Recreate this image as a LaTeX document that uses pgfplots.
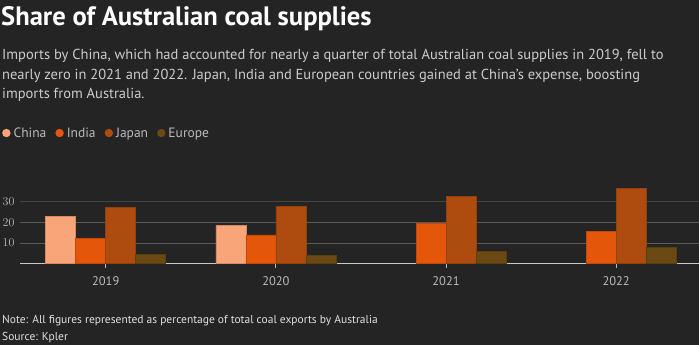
\documentclass[border=0pt]{standalone}
\usepackage{pgfplots}
\pgfplotsset{compat=1.18}
\usepackage{fontspec}
\setmainfont{PT Sans}
\definecolor{bg}{HTML}{242424}
\definecolor{cchina}{HTML}{F8A57A}
\definecolor{cindia}{HTML}{E4560A}
\definecolor{cjapan}{HTML}{AD4C0E}
\definecolor{ceurope}{HTML}{6B4913}
\definecolor{gridA}{HTML}{5A5A5A}
\definecolor{gridB}{HTML}{444444}
\definecolor{baseC}{HTML}{C8C8C8}
\definecolor{tickC}{HTML}{BBBBBB}
\begin{document}
\begin{tikzpicture}[x=1pt,y=1pt]
\fill[bg] (0,0) rectangle (699,345);
\useasboundingbox (0,0) rectangle (699,345);
\node[anchor=base west, inner sep=0pt, text=white, font=\fontsize{26.6}{30}\selectfont\bfseries] at (1,319) {Share of Australian coal supplies};
\begin{scope}[every node/.style={anchor=base west, inner sep=0pt, text=white!80!black, font=\fontsize{14.5}{20}\selectfont}]
\node at (2,285) {Imports by China, which had accounted for nearly a quarter of total Australian coal supplies in 2019, fell to};
\node at (2,265.5) {nearly zero in 2021 and 2022. Japan, India and European countries gained at China's expense, boosting};
\node at (2,246) {imports from Australia.};
\end{scope}
\node[anchor=base west, inner sep=0pt, text=white!88!black, font=\fontsize{11.5}{14}\selectfont] at (2,21) {Note: All figures represented as percentage of total coal exports by Australia};
\node[anchor=base west, inner sep=0pt, text=white!88!black, font=\fontsize{11.5}{14}\selectfont] at (2,4) {Source: Kpler};
\begin{axis}[
  at={(20pt,81.3pt)}, anchor=south west,
  scale only axis, width=679pt, height=82.7pt,
  xmin=-0.504, xmax=3.487, ymin=0, ymax=40,
  ybar=0pt, bar width=30pt,
  every axis plot post/.append style={legend image code/.code={\fill[##1, draw=none] (2pt,0pt) circle (4.2pt);}},
  xtick={0,1,2,3}, xticklabels={2019,2020,2021,2022},
  ytick={10,20}, extra y ticks={30},
  ymajorgrids, grid style={gridA, line width=1pt},
  extra y tick style={grid style={gridB, line width=1.2pt}},
  axis x line*=bottom, axis y line*=left,
  x axis line style={baseC, line width=1.6pt, -},
  y axis line style={draw=none},
  ytick style={draw=none},
  xtick style={tickC, line width=1pt},
  major tick length=4pt, tick align=outside,
  ticklabel style={text=tickC, font=\fontsize{12.5}{14}\selectfont},
  xticklabel style={yshift=-5pt},
  yticklabel style={anchor=west, inner sep=0pt, xshift=-13.5pt},
  legend columns=-1,
  legend style={at={(rel axis cs:-0.0265,1.58)}, anchor=west, draw=none, fill=none,
    text=tickC, font=\fontsize{13.5}{15}\selectfont, inner sep=0pt,
    /tikz/every even column/.append style={column sep=7pt},
    /tikz/every odd column/.append style={column sep=1pt}},
  enlargelimits=false,
]
\addplot[fill=cchina, draw=cchina!85!black, line width=0.5pt] coordinates {(0,23.0) (1,18.7)};
\addlegendentry{China}
\addplot[fill=cindia, draw=cindia!85!black, line width=0.5pt] coordinates {(0,12.3) (1,13.9) (2,19.5) (3,15.7)};
\addlegendentry{India}
\addplot[fill=cjapan, draw=cjapan!85!black, line width=0.5pt] coordinates {(0,27.4) (1,27.7) (2,32.7) (3,36.6)};
\addlegendentry{Japan}
\addplot[fill=ceurope, draw=ceurope!85!black, line width=0.5pt] coordinates {(0,4.5) (1,4.0) (2,6.0) (3,7.9)};
\addlegendentry{Europe}
\end{axis}
\end{tikzpicture}
\end{document}
